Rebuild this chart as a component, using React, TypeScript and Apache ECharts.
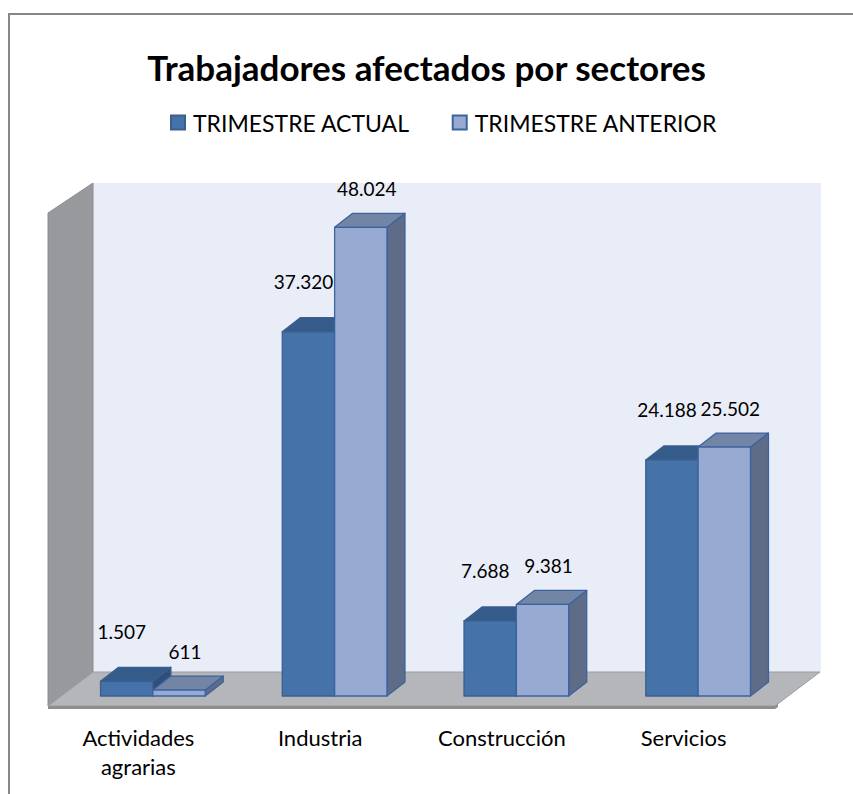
import React, { useEffect, useRef } from "react";
import * as echarts from "echarts";

const categories = ["Actividades\nagrarias", "Industria", "Construcción", "Servicios"];
const seriesNames = ["TRIMESTRE ACTUAL", "TRIMESTRE ANTERIOR"];
const actual = [1507, 37320, 7688, 24188];
const anterior = [611, 48024, 9381, 25502];

const FONT = "Lato, 'Open Sans', sans-serif";

const fmt = (v: number) => {
  const s = String(Math.round(v));
  return s.replace(/\B(?=(\d{3})+(?!\d))/g, ".");
};

const palettes = [
  { front: "#4572a8", top: "#355b8b", side: "#2f4f7a", stroke: "#3a5f8e", labelOffset: 50, labelShift: -5 },
  { front: "#96aad2", top: "#7385a4", side: "#5e6c88", stroke: "#3c63a0", labelOffset: 39, labelShift: 6 },
];

function barRenderer(idx: number) {
  const p = palettes[idx];
  return (params: any, api: any) => {
    const cat = api.value(0);
    const v = api.value(1);
    const base = api.coord([cat, 0]);
    const topPt = api.coord([cat, v]);
    const band = api.size([1, 0])[0];
    const w = band * 0.288;
    const x0 = idx === 0 ? base[0] - w : base[0];
    const x1 = x0 + w;
    const yb = base[1];
    const yt = topPt[1];
    const dx = 18;
    const dy = -14;
    const strokeStyle = { stroke: p.stroke, lineWidth: 1.3, lineJoin: "round" };
    return {
      type: "group",
      children: [
        {
          type: "polygon",
          shape: { points: [[x1, yt], [x1 + dx, yt + dy], [x1 + dx, yb + dy], [x1, yb]] },
          style: { fill: p.side, ...strokeStyle },
        },
        {
          type: "polygon",
          shape: { points: [[x0, yt], [x0 + dx, yt + dy], [x1 + dx, yt + dy], [x1, yt]] },
          style: { fill: p.top, ...strokeStyle },
        },
        {
          type: "rect",
          shape: { x: x0, y: yt, width: w, height: yb - yt },
          style: { fill: p.front, ...strokeStyle },
        },
        {
          type: "text",
          style: {
            text: fmt(v),
            x: (x0 + x1) / 2 + p.labelShift,
            y: yt - p.labelOffset,
            align: "center",
            verticalAlign: "middle",
            fill: "#000",
            font: `19px ${FONT}`,
          },
        },
      ],
    };
  };
}

function wallsRenderer(params: any) {
  const cs = params.coordSys;
  const gx = cs.x;
  const gw = cs.width;
  const gb = cs.y + cs.height;
  const fx0 = gx - 14;
  const fx1 = gx + gw - 14;
  const fy = gb + 10;
  const ddx = 45;
  const ddy = -34;
  const wallTopFront = cs.y + 5;
  const wallTopBack = wallTopFront - 30;
  return {
    type: "group",
    silent: true,
    children: [
      {
        type: "rect",
        shape: { x: fx0 + ddx, y: wallTopBack, width: gw + 1, height: fy + ddy - wallTopBack },
        style: { fill: "#e9edf7" },
      },
      {
        type: "polygon",
        shape: {
          points: [
            [fx0, wallTopFront],
            [fx0 + ddx, wallTopBack],
            [fx0 + ddx, fy + ddy],
            [fx0, fy],
          ],
        },
        style: { fill: "#97999c", stroke: "#8a8c8f", lineWidth: 1 },
      },
      {
        type: "polygon",
        shape: {
          points: [
            [fx0, fy],
            [fx0 + ddx, fy + ddy],
            [fx1 + ddx, fy + ddy],
            [fx1, fy],
          ],
        },
        style: { fill: "#b4b6b9", stroke: "#9a9c9f", lineWidth: 1 },
      },
      {
        type: "polygon",
        shape: {
          points: [
            [fx0, fy],
            [fx1, fy],
            [fx1 + 3, fy - 2],
            [fx1 + 3, fy + 1],
            [fx1, fy + 3],
            [fx0, fy + 3],
          ],
        },
        style: { fill: "#8d8e90" },
      },
    ],
  };
}

export default function App() {
  const ref = useRef<HTMLDivElement>(null);
  useEffect(() => {
    if (!ref.current) return;
    const chart = echarts.init(ref.current, undefined, { renderer: "svg" });
    const option: any = {
      animation: false,
      backgroundColor: "#ffffff",
      title: {
        text: "Trabajadores afectados por sectores",
        left: "center",
        top: 44,
        textStyle: { fontFamily: FONT, fontWeight: "bold", fontSize: 35, color: "#000" },
      },
      legend: {
        data: seriesNames,
        left: 165,
        top: 106,
        icon: "rect",
        itemWidth: 14,
        itemHeight: 14,
        itemGap: 42,
        textStyle: { fontFamily: FONT, fontSize: 23, color: "#000", padding: [0, 0, 0, 3] },
      },
      graphic: [
        {
          type: "rect",
          shape: { x: 9, y: 14, width: 900, height: 900 },
          style: { fill: "none", stroke: "#878787", lineWidth: 2 },
          silent: true,
        },
      ],
      grid: { left: 62, right: 64, top: 208, bottom: 98 },
      xAxis: {
        type: "category",
        data: categories,
        axisLine: { show: false },
        axisTick: { show: false },
        splitLine: { show: false },
        axisLabel: {
          margin: 27,
          fontFamily: FONT,
          fontSize: 22,
          color: "#000",
          lineHeight: 29,
          padding: [0, 29, 0, 0],
          interval: 0,
        },
      },
      yAxis: {
        type: "value",
        min: 0,
        max: 50000,
        show: false,
        splitLine: { show: false },
      },
      series: [
        {
          type: "custom",
          name: "walls",
          z: 1,
          silent: true,
          renderItem: wallsRenderer,
          data: [[0, 0]],
        },
        {
          type: "custom",
          name: seriesNames[0],
          z: 2,
          renderItem: barRenderer(0),
          itemStyle: { color: palettes[0].front, borderColor: palettes[0].stroke, borderWidth: 1.5 },
          data: actual.map((v, i) => [i, v]),
        },
        {
          type: "custom",
          name: seriesNames[1],
          z: 3,
          renderItem: barRenderer(1),
          itemStyle: { color: palettes[1].front, borderColor: palettes[1].stroke, borderWidth: 1.5 },
          data: anterior.map((v, i) => [i, v]),
        },
      ],
    };
    chart.setOption(option);
    return () => chart.dispose();
  }, []);
  return (
    <div
      ref={ref}
      style={{ position: "absolute", left: 0, top: 0, width: 853, height: 794 }}
    />
  );
}
